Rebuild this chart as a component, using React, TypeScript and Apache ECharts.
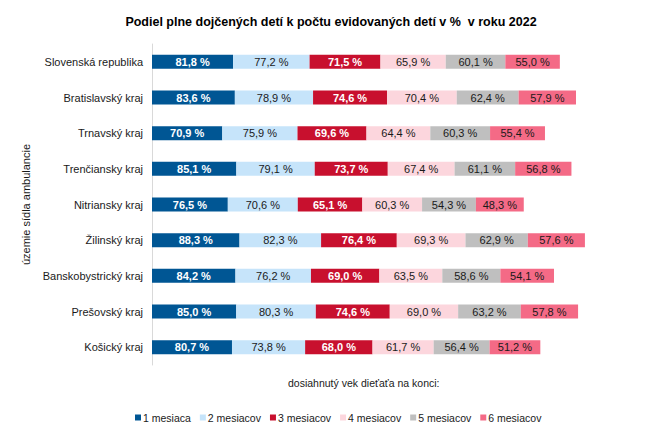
import React, { useEffect, useRef } from "react";
import * as echarts from "echarts";

const categories = [
  "Slovenská republika",
  "Bratislavský kraj",
  "Trnavský kraj",
  "Trenčiansky kraj",
  "Nitriansky kraj",
  "Žilinský kraj",
  "Banskobystrický kraj",
  "Prešovský kraj",
  "Košický kraj",
];

const seriesNames = ["1 mesiaca", "2 mesiacov", "3 mesiacov", "4 mesiacov", "5 mesiacov", "6 mesiacov"];

const m1 = [81.8, 83.6, 70.9, 85.1, 76.5, 88.3, 84.2, 85.0, 80.7];
const m2 = [77.2, 78.9, 75.9, 79.1, 70.6, 82.3, 76.2, 80.3, 73.8];
const m3 = [71.5, 74.6, 69.6, 73.7, 65.1, 76.4, 69.0, 74.6, 68.0];
const m4 = [65.9, 70.4, 64.4, 67.4, 60.3, 69.3, 63.5, 69.0, 61.7];
const m5 = [60.1, 62.4, 60.3, 61.1, 54.3, 62.9, 58.6, 63.2, 56.4];
const m6 = [55.0, 57.9, 55.4, 56.8, 48.3, 57.6, 54.1, 57.8, 51.2];

const seriesData = [m1, m2, m3, m4, m5, m6];
const colors = ["#005694", "#C6E4FA", "#C8102E", "#FCD6DD", "#BFBFBF", "#F46A86"];
const labelColors = ["#FFFFFF", "#1A1A1A", "#FFFFFF", "#1A1A1A", "#1A1A1A", "#1A1A1A"];
const labelWeights = ["bold", "normal", "bold", "normal", "normal", "normal"];

const FONT = "'Liberation Sans', Arial, sans-serif";

export default function App() {
  const ref = useRef<HTMLDivElement>(null);
  useEffect(() => {
    if (!ref.current) return;
    const chart = echarts.init(ref.current, undefined, { renderer: "svg" });
    chart.setOption({
      animation: false,
      backgroundColor: "#FFFFFF",
      textStyle: { fontFamily: FONT },
      title: {
        text: "Podiel plne dojčených detí k počtu evidovaných detí v %  v roku 2022",
        left: 326,
        textAlign: "center",
        top: 10,
        textStyle: { fontFamily: FONT, fontSize: 12.5, fontWeight: "bold", color: "#000" },
      },
      legend: {
        data: seriesNames,
        left: 130,
        top: 407,
        itemWidth: 6,
        itemHeight: 6,
        itemGap: 9,
        icon: "rect",
        textStyle: { fontFamily: FONT, fontSize: 10.5, color: "#1A1A1A", padding: [0, 0, 0, -3] },
      },
      grid: { left: 152, top: 44, width: 446, height: 321, containLabel: false },
      xAxis: {
        type: "value",
        min: 0,
        max: 450,
        show: false,
      },
      yAxis: {
        type: "category",
        data: categories,
        inverse: true,
        axisLine: { show: true, lineStyle: { color: "#D9D9D9", width: 1 } },
        axisTick: { show: false },
        axisLabel: { fontFamily: FONT, fontSize: 11, color: "#1A1A1A", margin: 9 },
        name: "územie sídla ambulancie",
        nameLocation: "middle",
        nameGap: 109,
        nameRotate: 90,
        nameTextStyle: { fontFamily: FONT, fontSize: 11, color: "#1A1A1A" },
      },
      graphic: [
        {
          type: "text",
          left: 288,
          top: 377,
          style: {
            text: "dosiahnutý vek dieťaťa na konci:",
            fontFamily: FONT,
            fontSize: 10.5,
            fill: "#1A1A1A",
          },
        },
      ],
      series: seriesData.map((d, i) => ({
        name: seriesNames[i],
        type: "bar",
        stack: "total",
        data: d,
        barWidth: 14,
        itemStyle: { color: colors[i] },
        label: {
          show: true,
          position: "inside",
          fontFamily: FONT,
          fontSize: 11,
          color: labelColors[i],
          fontWeight: labelWeights[i],
          formatter: (p: any) => p.value.toFixed(1).replace(".", ",") + " %",
        },
      })),
    });
    return () => chart.dispose();
  }, []);
  return (
    <div
      ref={ref}
      style={{ position: "absolute", left: 0, top: 0, width: 650, height: 445 }}
    />
  );
}
